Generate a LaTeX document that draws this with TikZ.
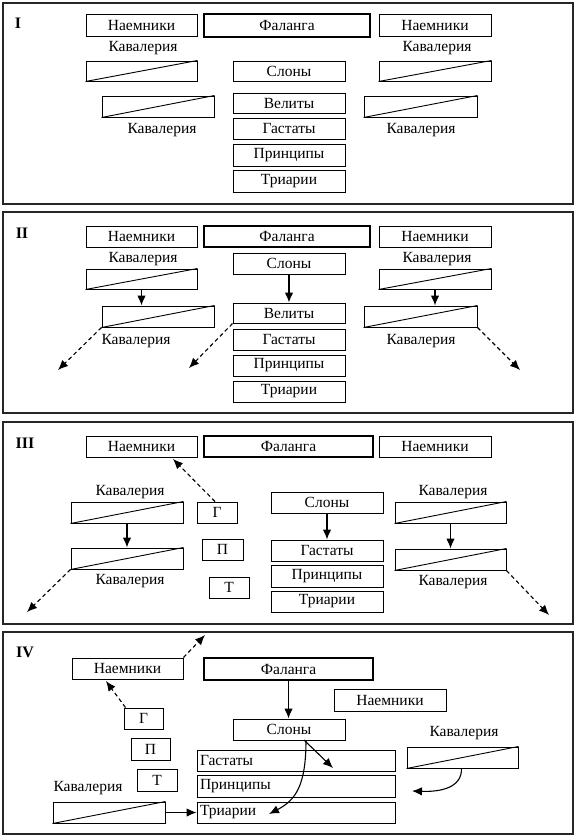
\documentclass[tikz,border=0pt]{standalone}
\usepackage{fontspec}
\setmainfont{Liberation Serif}
\usetikzlibrary{arrows.meta}
\newcommand\mybox[7]{\node[#1, minimum width={(#5)-(#3)}, minimum height={(#6)-(#4)}] (#2) at ({(#3+#5)/2},{(#4+#6)/2}) {#7};}
\newcommand\cavbox[5]{\node[cav, minimum width={(#4)-(#2)}, minimum height={(#5)-(#3)}] (#1) at ({(#2+#4)/2},{(#3+#5)/2}) {};
  \draw[thinline] (#1.south west) -- (#1.north east);}
\tikzset{
  txt/.style={font=\fontsize{15.5}{17}\selectfont, inner sep=0pt},
  box/.style={txt, draw, line width=1pt},
  thickbox/.style={box, line width=2pt},
  lbox/.style={box, text width={(#1)-6}, align=left, inner xsep=3pt},
  cav/.style={draw, line width=1pt, inner sep=0pt},
  thinline/.style={line width=0.9pt},
  frame/.style={draw=black!85, line width=2pt},
  arr/.style={line width=1.1pt, -{Latex[length=10pt,width=8.5pt]}},
  darr/.style={arr, dash pattern=on 4pt off 3pt},
  num/.style={font=\fontsize{16}{17}\selectfont\bfseries, inner sep=0pt}
}
\begin{document}
\begin{tikzpicture}[x=1pt,y=-1pt]
\useasboundingbox[fill=white] (0,0) rectangle (576,836);
% ================= Panel I
\draw[frame] (3,3) rectangle (573,204);
\node[num] (n1) at (18,23) {I};
\mybox{box}{NaIL}{86}{14}{197}{36}{Наемники}
\mybox{thickbox}{FaI}{204}{14}{370}{37}{Фаланга}
\mybox{box}{NaIR}{379}{14}{491}{36}{Наемники}
\node[txt] (kIa) at (143,48) {Кавалерия};
\cavbox{CIa}{86}{61}{197}{81}
\mybox{box}{SlI}{233}{61}{345}{81}{Слоны}
\node[txt] (kIb) at (437,48) {Кавалерия};
\cavbox{CIb}{379}{61}{491}{81}
\cavbox{CIc}{102}{96}{214}{117}
\node[txt] (kIc) at (162,130) {Кавалерия};
\mybox{box}{VeI}{233}{93}{345}{113}{Велиты}
\mybox{box}{GaI}{233}{118}{345}{139}{Гастаты}
\mybox{box}{PrI}{233}{144}{345}{166}{Принципы}
\mybox{box}{TrI}{233}{170}{345}{192}{Триарии}
\cavbox{CId}{364}{96}{477}{117}
\node[txt] (kId) at (421,130) {Кавалерия};
% ================= Panel II
\draw[frame] (3,212) rectangle (573,413);
\node[num] (n2) at (22,233) {II};
\mybox{box}{NaIIL}{86}{226}{197}{247}{Наемники}
\mybox{thickbox}{FaII}{204}{226}{370}{247}{Фаланга}
\mybox{box}{NaIIR}{379}{226}{491}{247}{Наемники}
\node[txt] (kIIa) at (143,259) {Кавалерия};
\cavbox{CIIa}{86}{269}{197}{289}
\cavbox{CIIb}{102}{306}{214}{327}
\node[txt] (kIIb) at (136,341) {Кавалерия};
\draw[arr] (CIIa.south) -- (CIIa.south |- CIIb.north);
\coordinate (eIIa) at (58,370);
\draw[darr] (CIIb.south west) -- (eIIa);
\mybox{box}{SlII}{233}{253}{345}{274}{Слоны}
\mybox{box}{VeII}{233}{303}{345}{323}{Велиты}
\draw[arr] (SlII.south) -- (VeII.north);
\coordinate (eIIb) at (189,368);
\draw[darr] (VeII.south west) -- (eIIb);
\mybox{box}{GaII}{233}{329}{345}{350}{Гастаты}
\mybox{box}{PrII}{233}{355}{345}{376}{Принципы}
\mybox{box}{TrII}{233}{381}{345}{402}{Триарии}
\node[txt] (kIIc) at (437,259) {Кавалерия};
\cavbox{CIIc}{379}{269}{491}{289}
\cavbox{CIId}{364}{306}{477}{327}
\node[txt] (kIId) at (421,341) {Кавалерия};
\draw[arr] (CIIc.south) -- (CIIc.south |- CIId.north);
\coordinate (eIIc) at (520,370);
\draw[darr] (CIId.south east) -- (eIIc);
% ================= Panel III
\draw[frame] (3,422) rectangle (573,624);
\node[num] (n3) at (25,443) {III};
\mybox{box}{NaIIIL}{86}{436}{197}{457}{Наемники}
\mybox{thickbox}{FaIII}{204}{436}{373}{457}{Фаланга}
\mybox{box}{NaIIIR}{379}{436}{491}{457}{Наемники}
\node[txt] (kIIIa) at (130,492) {Кавалерия};
\cavbox{CIIIa}{71}{502}{183}{523}
\cavbox{CIIIb}{71}{548}{183}{569}
\node[txt] (kIIIb) at (130,581) {Кавалерия};
\draw[arr] (CIIIa.south) -- (CIIIb.north);
\coordinate (eIIIa) at (27,612);
\draw[darr] (CIIIb.south west) -- (eIIIa);
\mybox{box}{GIII}{197}{502}{237}{523}{Г}
\mybox{box}{PIII}{202}{539}{243}{560}{П}
\mybox{box}{TIII}{209}{577}{249}{598}{Т}
\coordinate (eIIIb) at (173,459);
\draw[darr] ([xshift=-2pt]GIII.north) -- (eIIIb);
\mybox{box}{SlIII}{271}{492}{383}{513}{Слоны}
\mybox{box}{GaIII}{271}{540}{383}{561}{Гастаты}
\mybox{box}{PrIII}{271}{565}{383}{587}{Принципы}
\mybox{box}{TrIII}{271}{591}{383}{612}{Триарии}
\draw[arr] (SlIII.south) -- (GaIII.north);
\node[txt] (kIIIc) at (453,492) {Кавалерия};
\cavbox{CIIIc}{395}{502}{506}{523}
\cavbox{CIIId}{395}{549}{506}{570}
\node[txt] (kIIId) at (453,582) {Кавалерия};
\draw[arr] (CIIIc.south) -- (CIIId.north);
\coordinate (eIIIc) at (549,615);
\draw[darr] (CIIId.south east) -- (eIIIc);
% ================= Panel IV
\draw[frame] (3,632) rectangle (573,834);
\node[num] (n4) at (25,652) {IV};
\mybox{box}{NaIVa}{72}{658}{183}{679}{Наемники}
\coordinate (eIVa) at (205,635);
\draw[darr] (NaIVa.north east) -- (eIVa);
\mybox{thickbox}{FaIV}{204}{658}{373}{680}{Фаланга}
\mybox{box}{NaIVb}{334}{689}{446}{711}{Наемники}
\mybox{box}{GIV}{124}{708}{163}{729}{Г}
\mybox{box}{PIV}{131}{738}{170}{760}{П}
\mybox{box}{TIV}{137}{769}{177}{791}{Т}
\coordinate (eIVb) at (106,681);
\draw[darr] ([xshift=2pt]GIV.north west) -- (eIVb);
\node[txt] (kIVa) at (88,788) {Кавалерия};
\cavbox{CIVa}{53}{802}{165}{823}
\mybox{box}{SlIV}{233}{719}{345}{740}{Слоны}
\draw[arr] (FaIV.south) -- (FaIV.south |- SlIV.north);
\mybox{lbox=198}{GaIV}{197}{750}{395}{771}{Гастаты}
\mybox{lbox=198}{PrIV}{197}{775}{395}{797}{Принципы}
\mybox{lbox=198}{TrIV}{197}{802}{395}{823}{Триарии}
\draw[arr] (CIVa.east) -- (TrIV.west);
\coordinate (sIVa) at (304,740);
\coordinate (eIVc) at (333,768);
\draw[arr] (sIVa) -- (eIVc);
\coordinate (sIVb) at (306,740);
\coordinate (eIVd) at (269,814);
\draw[arr] (sIVb) .. controls (306,785) and (296,800) .. (eIVd);
\node[txt] (kIVb) at (464,733) {Кавалерия};
\cavbox{CIVb}{407}{747}{518}{768}
\coordinate (eIVe) at (412,791);
\draw[arr] ([xshift=-1pt]CIVb.south) .. controls (462,788) and (440,792) .. (eIVe);
\end{tikzpicture}
\end{document}
